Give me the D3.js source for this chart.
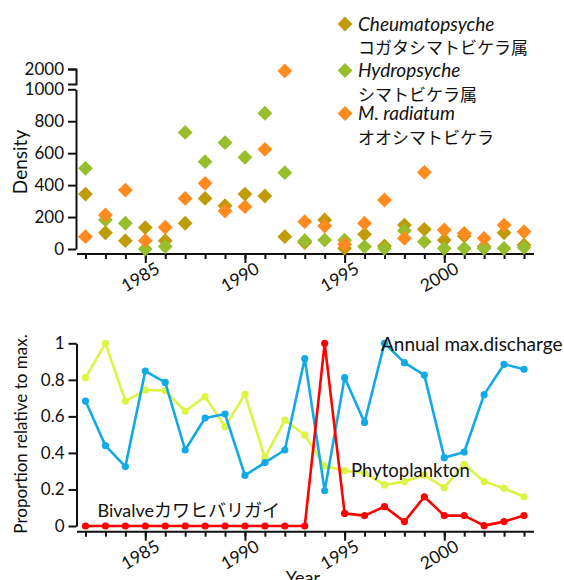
<!DOCTYPE html>
<html>
<head>
<meta charset="utf-8">
<script src="https://cdn.jsdelivr.net/npm/d3@7"></script>
<style>
  body { margin: 0; background: #fff; }
  svg text { font-family: Lato, "Noto Sans CJK JP", sans-serif; fill: #111; }
</style>
</head>
<body>
<script>
// years on both panels
const years = [1982, 1983, 1984, 1985, 1986, 1987, 1988, 1989, 1990, 1991, 1992,
  1993, 1994, 1995, 1996, 1997, 1998, 1999, 2000, 2001, 2002, 2003, 2004];
const majorYears = [1985, 1990, 1995, 2000];

// top panel: larval density
const cheumatopsyche = [344, 102, 52, 134, 52, 161, 317, 271, 344, 332, 77,
  40, 182, 5, 92, 19, 150, 123, 56, 81, 15, 102, 25];
const hydropsyche = [505, 182, 161, 0, 15, 730, 547, 666, 574, 850, 478,
  52, 56, 55, 15, 4, 115, 46, 4, 4, 4, 4, 10];
const radiatum = [77, 213, 369, 52, 136, 317, 411, 238, 265, 624, 1985,
  171, 144, 30, 161, 307, 67, 480, 119, 98, 67, 150, 108];
const densityTicks = [0, 200, 400, 600, 800, 1000];

// bottom panel: proportion relative to max.
const discharge = [0.684, 0.44, 0.325, 0.848, 0.786, 0.416, 0.591, 0.613, 0.277, 0.347, 0.416,
  0.916, 0.193, 0.812, 0.567, 1.0, 0.894, 0.826, 0.374, 0.405, 0.719, 0.885, 0.858];
const phytoplankton = [0.812, 1.0, 0.684, 0.744, 0.741, 0.628, 0.708, 0.544, 0.721, 0.374, 0.58,
  0.498, 0.328, 0.303, 0.29, 0.225, 0.243, 0.279, 0.21, 0.338, 0.243, 0.206, 0.16];
const bivalve = [0, 0, 0, 0, 0, 0, 0, 0, 0, 0, 0,
  0, 1.0, 0.069, 0.057, 0.106, 0.024, 0.16, 0.057, 0.057, 0.002, 0.024, 0.057];
const propTicks = [0, 0.2, 0.4, 0.6, 0.8, 1];

const W = 564, H = 580;
const svg = d3.select("body").append("svg").attr("width", W).attr("height", H);

var x = d3.scaleLinear().domain([1982, 2004]).range([85.5, 524]);

function styleAxis(g) {
  g.selectAll("path, line").attr("stroke", "#111").attr("stroke-width", 2);
  g.selectAll("text").attr("font-size", "17px").attr("fill", "#111")
    .attr("font-family", 'Lato, "Noto Sans CJK JP", sans-serif');
}

// x axis with yearly minor ticks, 5-year major ticks and slanted labels
function drawXAxis(y0) {
  var g = svg.append("g").attr("transform", "translate(0," + y0 + ")");
  g.append("line").attr("x1", 77).attr("x2", 534).attr("stroke", "#111").attr("stroke-width", 2);
  g.append("g").call(d3.axisBottom(x).tickValues(years).tickSize(5).tickFormat(""))
    .call(s => s.select(".domain").remove()).call(styleAxis);
  g.append("g").call(d3.axisBottom(x).tickValues(majorYears).tickSize(9).tickFormat(""))
    .call(s => s.select(".domain").remove()).call(styleAxis);
  g.selectAll(".ylab").data(majorYears).enter().append("text")
    .attr("class", "ylab")
    .attr("transform", d => "translate(" + (x(d) - 5) + ",23) rotate(-30)")
    .attr("text-anchor", "middle").attr("dy", "0.35em")
    .attr("font-size", "17.5px")
    .text(d => d);
}

// ---------- top panel ----------
var yLow = d3.scaleLinear().domain([0, 1000]).range([249, 89.3]);
var yUp = d3.scaleLinear().domain([1880, 2000]).range([84, 69]);
function yDens(v) { return v > 1000 ? yUp(v) : yLow(v); }

svg.append("g").attr("transform", "translate(76,0)")
  .call(d3.axisLeft(yLow).tickValues(densityTicks).tickSize(8).tickSizeOuter(0).tickPadding(4)
    .tickFormat(d3.format("d")))
  .call(styleAxis);
svg.append("g").attr("transform", "translate(76,0)")
  .call(d3.axisLeft(yUp).tickValues([2000]).tickSize(8).tickSizeOuter(8).tickPadding(4)
    .tickFormat(d3.format("d")))
  .call(styleAxis);
drawXAxis(254);

svg.append("text").attr("transform", "translate(27,162) rotate(-90)")
  .attr("text-anchor", "middle").attr("font-size", "19px").text("Density");

var diamond = d3.symbol(d3.symbolSquare, 110)();
var topSeries = [
  { values: cheumatopsyche, color: "#c09b0a" },
  { values: hydropsyche, color: "#98be2e" },
  { values: radiatum, color: "#ff8a1e" }
];
topSeries.forEach(function(s) {
  svg.append("g").selectAll("path").data(s.values).enter().append("path")
    .attr("d", diamond)
    .attr("fill", s.color)
    .attr("transform", (d, i) => "translate(" + x(years[i]) + "," + yDens(d) + ") rotate(45)");
});

// legend
var legend = [
  { name: "Cheumatopsyche", jp: "コガタシマトビケラ属", color: "#c09b0a", y: 24 },
  { name: "Hydropsyche", jp: "シマトビケラ属", color: "#98be2e", y: 70.5 },
  { name: "M. radiatum", jp: "オオシマトビケラ", color: "#ff8a1e", y: 113.5 }
];
legend.forEach(function(l) {
  svg.append("path").attr("d", diamond).attr("fill", l.color)
    .attr("transform", "translate(345," + l.y + ") rotate(45)");
  svg.append("text").attr("x", 358).attr("y", l.y + 6.5).attr("font-size", "19px")
    .attr("font-style", "italic").text(l.name);
  svg.append("text").attr("x", 358).attr("y", l.y + 30).attr("font-size", "17px").text(l.jp);
});

// ---------- bottom panel ----------
var yProp = d3.scaleLinear().domain([0, 1]).range([526, 343.3]);
svg.append("g").attr("transform", "translate(76.5,0)")
  .call(d3.axisLeft(yProp).tickValues(propTicks).tickSize(8).tickSizeOuter(0).tickPadding(4)
    .tickFormat(d => d === 0 || d === 1 ? d3.format("d")(d) : d3.format(".1f")(d)))
  .call(styleAxis);
drawXAxis(531.7);

svg.append("text").attr("transform", "translate(27,434) rotate(-90)")
  .attr("text-anchor", "middle").attr("font-size", "17px").text("Proportion relative to max.");
svg.append("text").attr("x", 303).attr("y", 584).attr("text-anchor", "middle")
  .attr("font-size", "18px").text("Year");

var line = d3.line().x((d, i) => x(years[i])).y(d => yProp(d));
var bottomSeries = [
  { values: phytoplankton, color: "#ddf542" },
  { values: discharge, color: "#12aae6" },
  { values: bivalve, color: "#ff0000" }
];
bottomSeries.forEach(function(s) {
  svg.append("path").datum(s.values).attr("d", line)
    .attr("fill", "none").attr("stroke", s.color).attr("stroke-width", 2.6)
    .attr("stroke-linejoin", "round");
  svg.append("g").selectAll("circle").data(s.values).enter().append("circle")
    .attr("cx", (d, i) => x(years[i])).attr("cy", d => yProp(d)).attr("r", 3.6)
    .attr("fill", s.color);
});

svg.append("text").attr("x", 97.5).attr("y", 516.5).attr("font-size", "18px").text("Bivalveカワヒバリガイ");
svg.append("text").attr("x", 381).attr("y", 350.5).attr("font-size", "19px").text("Annual max.discharge");
svg.append("text").attr("x", 351).attr("y", 476.5).attr("font-size", "18.5px").text("Phytoplankton");
</script>
</body>
</html>
